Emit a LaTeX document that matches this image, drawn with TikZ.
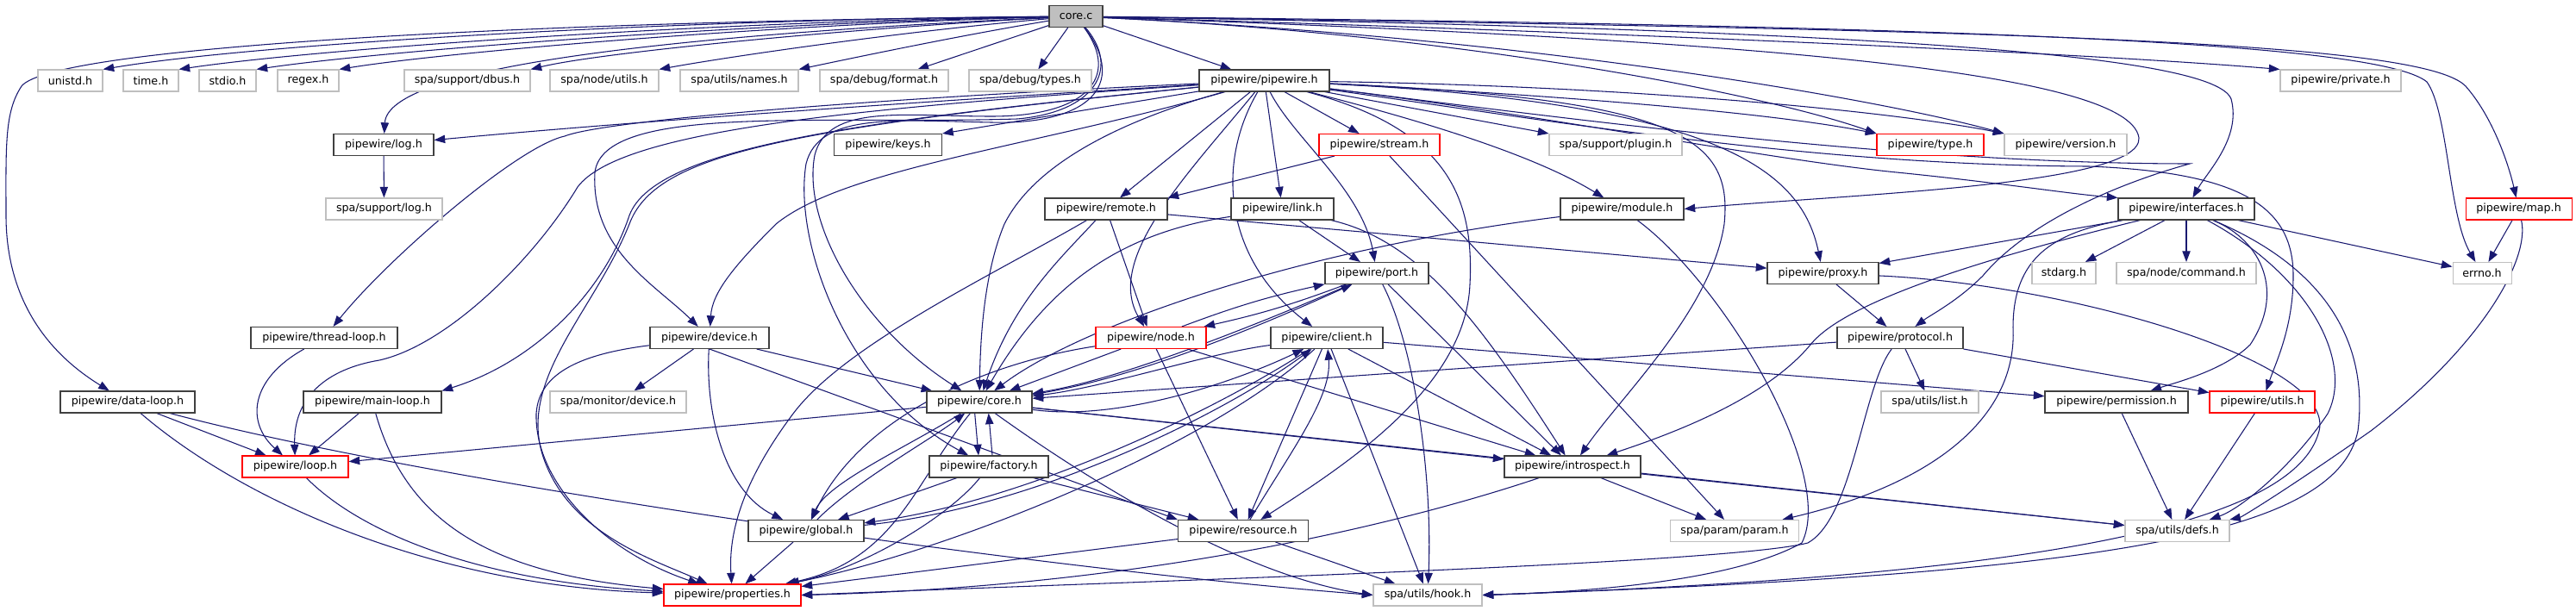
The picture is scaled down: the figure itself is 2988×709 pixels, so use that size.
\documentclass[tikz,border=0pt]{standalone}
\usepackage{fontspec}
\setmainfont{DejaVu Sans}
\usetikzlibrary{arrows.meta}
\definecolor{edgec}{HTML}{191970}
\definecolor{nbord}{HTML}{404040}
\definecolor{gbord}{HTML}{BFBFBF}
\definecolor{rbord}{HTML}{FF0000}
\pgfdeclarelayer{edgelayer}
\pgfsetlayers{edgelayer,main}
\begin{document}
\begin{tikzpicture}[x=0.75pt,y=-0.75pt,
  nd/.style={rectangle,minimum height=18.75pt,inner sep=0pt,line width=0.8pt,fill=white,font=\fontsize{9.5}{11}\selectfont},
  nb/.style={nd,draw=nbord},
  ng/.style={nd,draw=gbord},
  nr/.style={nd,draw=rbord},
  e/.style={draw=edgec,line width=0.8pt,-{Triangle[length=9.5pt,width=7pt]}}]
\useasboundingbox (0,0) rectangle (2988,709);
% row 0
\node[nb,fill=gbord,minimum width=46.5pt] (C) at (1248,19) {core.c};
% row 1
\node[ng,minimum width=56.25pt] (unistd) at (81.5,93.5) {unistd.h};
\node[ng,minimum width=48pt] (time) at (175,93.5) {time.h};
\node[ng,minimum width=49.5pt] (stdio) at (264,93.5) {stdio.h};
\node[ng,minimum width=53.25pt] (regex) at (357.5,93.5) {regex.h};
\node[ng,minimum width=109.5pt] (dbus) at (542,93.5) {spa/support/dbus.h};
\node[ng,minimum width=94.5pt] (nodeutils) at (701,93.5) {spa/node/utils.h};
\node[ng,minimum width=102.75pt] (names) at (857.5,93.5) {spa/utils/names.h};
\node[ng,minimum width=111.75pt] (format) at (1025.5,93.5) {spa/debug/format.h};
\node[ng,minimum width=106.5pt] (types) at (1195,93.5) {spa/debug/types.h};
\node[nb,minimum width=113.25pt] (P) at (1466.5,93.5) {pipewire/pipewire.h};
\node[ng,minimum width=105pt] (private) at (2715,93.5) {pipewire/private.h};
% row 2
\node[nb,minimum width=87pt] (log) at (445,168) {pipewire/log.h};
\node[nb,minimum width=93.75pt] (keys) at (1030,168) {pipewire/keys.h};
\node[nr,minimum width=105pt] (stream) at (1600,168) {pipewire/stream.h};
\node[ng,minimum width=115.5pt] (plugin) at (1874,168) {spa/support/plugin.h};
\node[nr,minimum width=93pt] (type) at (2239,168) {pipewire/type.h};
\node[ng,minimum width=106.5pt] (version) at (2396,168) {pipewire/version.h};
% row 3
\node[ng,minimum width=101.25pt] (slog) at (445.5,242.5) {spa/support/log.h};
\node[nb,minimum width=106.5pt] (remote) at (1283,242.5) {pipewire/remote.h};
\node[nb,minimum width=89.25pt] (link) at (1487.5,242.5) {pipewire/link.h};
\node[nb,minimum width=107.25pt] (module) at (1881.5,242.5) {pipewire/module.h};
\node[nb,minimum width=118.5pt] (interfaces) at (2536,242.5) {pipewire/interfaces.h};
\node[nr,minimum width=92.25pt] (map) at (2921.5,242.5) {pipewire/map.h};
% row 4
\node[nb,minimum width=90pt] (port) at (1597,317) {pipewire/port.h};
\node[nb,minimum width=96.75pt] (proxy) at (2114.5,317) {pipewire/proxy.h};
\node[ng,minimum width=55.5pt] (stdarg) at (2394,317) {stdarg.h};
\node[ng,minimum width=121.5pt] (command) at (2536,317) {spa/node/command.h};
\node[ng,minimum width=51pt] (errno) at (2879,317) {errno.h};
% row 5
\node[nb,minimum width=127.5pt] (threadloop) at (376,392) {pipewire/thread-loop.h};
\node[nb,minimum width=103.5pt] (device) at (823,392) {pipewire/device.h};
\node[nr,minimum width=96pt] (node) at (1335,392) {pipewire/node.h};
\node[nb,minimum width=97.5pt] (client) at (1539,392) {pipewire/client.h};
\node[nb,minimum width=109.5pt] (protocol) at (2204,392) {pipewire/protocol.h};
% row 6
\node[nb,minimum width=117pt] (dataloop) at (148,466.5) {pipewire/data-loop.h};
\node[nb,minimum width=120pt] (mainloop) at (432,466.5) {pipewire/main-loop.h};
\node[ng,minimum width=118.5pt] (monitordevice) at (717,466.5) {spa/monitor/device.h};
\node[nb,minimum width=91.5pt] (core) at (1136,466.5) {pipewire/core.h};
\node[ng,minimum width=84.75pt] (list) at (2238.5,466.5) {spa/utils/list.h};
\node[nb,minimum width=124.5pt] (permission) at (2455,466.5) {pipewire/permission.h};
\node[nr,minimum width=91.5pt] (utils) at (2624,466.5) {pipewire/utils.h};
% row 7
\node[nr,minimum width=92.25pt] (loop) at (342.5,541.5) {pipewire/loop.h};
\node[nb,minimum width=103.5pt] (factory) at (1147,541.5) {pipewire/factory.h};
\node[nb,minimum width=118.5pt] (introspect) at (1824,541.5) {pipewire/introspect.h};
% row 8
\node[nb,minimum width=100.5pt] (global) at (935,616) {pipewire/global.h};
\node[nb,minimum width=113.25pt] (resource) at (1442,616) {pipewire/resource.h};
\node[ng,minimum width=111.75pt] (param) at (2012,616) {spa/param/param.h};
\node[ng,minimum width=90.75pt] (defs) at (2525.5,616) {spa/utils/defs.h};
% row 9
\node[nr,minimum width=119.25pt] (properties) at (849.5,690.5) {pipewire/properties.h};
\node[ng,minimum width=94.5pt] (hook) at (1656,690.5) {spa/utils/hook.h};

\begin{pgfonlayer}{edgelayer}
% ---- edges from core.c
\draw[e] (C) .. controls (800,22) and (300,50) .. (unistd.north east);
\draw[e] (C) .. controls (850,24) and (380,55) .. (time.north east);
\draw[e] (C) .. controls (880,26) and (450,58) .. (stdio.north east);
\draw[e] (C) .. controls (900,28) and (520,60) .. (regex.north east);
\draw[e] (C) .. controls (1000,32) and (700,60) .. (dbus.north east);
\draw[e] (C) .. controls (1050,36) and (850,65) .. (nodeutils.north east);
\draw[e] (C) .. controls (1120,40) and (1000,65) .. (names.north east);
\draw[e] (C) -- (format);
\draw[e] (C) -- (types);
\draw[e] (C) -- (P);
\draw[e] (C) .. controls (800,40) and (450,75) .. (log);
\draw[e] (C) .. controls (600,25) and (60,55) .. (25,100) .. controls (5,130) and (7,170) .. (7,250) .. controls (7,330) and (40,400) .. (dataloop);
\draw[e] (C) .. controls (1800,35) and (2400,60) .. (private.north west);
\draw[e] (C) .. controls (2300,30) and (2760,50) .. (2815,95) .. controls (2840,130) and (2840,250) .. (errno);
\draw[e] (C) .. controls (2350,35) and (2810,48) .. (2860,100) .. controls (2895,140) and (2912,200) .. (map);
\draw[e] (C) .. controls (2200,35) and (2570,65) .. (2588,115) .. controls (2600,160) and (2560,200) .. (interfaces);
\draw[e] (C) .. controls (1700,40) and (2050,110) .. (type.north west);
\draw[e] (C) .. controls (1800,45) and (2200,120) .. (version.north west);
\draw[e] (C) .. controls (2000,45) and (2470,80) .. (2481,160) .. controls (2485,215) and (2150,225) .. (module.east);
\draw[e] (C) .. controls (1300,80) and (1270,130) .. (1180,138) .. controls (950,145) and (700,120) .. (690,200) .. controls (685,290) and (760,330) .. (device);
\draw[e] (C) .. controls (1300,90) and (1260,135) .. (1150,135) .. controls (1050,135) and (960,120) .. (945,180) .. controls (930,260) and (1000,380) .. (core);
\draw[e] (C) .. controls (1310,100) and (1260,145) .. (1150,142) .. controls (1040,140) and (950,130) .. (935,190) .. controls (920,280) and (980,450) .. (factory);

% ---- edges from pipewire.h
\draw[e] (P) .. controls (1200,110) and (800,135) .. (log);
\draw[e] (P) -- (keys.north east);
\draw[e] (P) .. controls (1000,115) and (700,140) .. (655,158) .. controls (600,170) and (450,300) .. (threadloop);
\draw[e] (P) .. controls (1000,140) and (760,170) .. (730,250) .. controls (700,340) and (620,420) .. (mainloop.north east);
\draw[e] (P) .. controls (1000,125) and (720,150) .. (670,217) .. controls (620,300) and (520,400) .. (440,418) .. controls (380,428) and (340,460) .. (loop);
\draw[e] (P) .. controls (1200,170) and (980,195) .. (900,260) .. controls (850,310) and (826,340) .. (device);
\draw[e] (P) .. controls (900,150) and (760,180) .. (730,260) .. controls (690,360) and (600,440) .. (630,530) .. controls (660,620) and (760,650) .. (properties);
\draw[e] (P) .. controls (1300,140) and (1200,190) .. (1165,260) .. controls (1140,320) and (1137,400) .. (core);
\draw[e] (P) .. controls (1380,200) and (1280,300) .. (node);
\draw[e] (P) -- (remote);
\draw[e] (P) -- (link);
\draw[e] (P) -- (stream);
\draw[e] (P) .. controls (1500,160) and (1580,220) .. (port);
\draw[e] (P) .. controls (1410,190) and (1420,300) .. (client);
\draw[e] (P) .. controls (1680,150) and (1710,230) .. (1705,330) .. controls (1700,450) and (1560,540) .. (resource);
\draw[e] (P) .. controls (1950,115) and (2010,160) .. (2000,260) .. controls (1985,360) and (1880,460) .. (introspect);
\draw[e] (P) -- (plugin.north west);
\draw[e] (P) .. controls (1650,140) and (1780,180) .. (module);
\draw[e] (P) .. controls (2000,120) and (2090,200) .. (proxy);
\draw[e] (P) .. controls (1800,110) and (2050,130) .. (type.north west);
\draw[e] (P) .. controls (1900,100) and (2200,130) .. (version.north west);
\draw[e] (P) .. controls (1800,135) and (2050,185) .. (2200,200) .. controls (2320,212) and (2400,225) .. (interfaces.north west);
\draw[e] (P) .. controls (1800,140) and (2100,192) .. (2423,193) .. controls (2600,200) and (2660,240) .. (2660,320) .. controls (2660,380) and (2640,420) .. (utils);
\draw[e] (P) .. controls (1800,135) and (2200,190) .. (2540,190) .. controls (2450,215) and (2350,260) .. (2300,320) .. controls (2270,350) and (2240,365) .. (protocol);

% ---- other edges
\draw[e] (log) -- (slog);
\draw[e] (stream) -- (remote.north east);
\draw[e] (stream) -- (param);
\draw[e] (remote) -- (node);
\draw[e] (remote) .. controls (1230,300) and (1175,350) .. (core);
\draw[e] (remote) .. controls (1150,320) and (980,400) .. (920,480) .. controls (860,560) and (845,620) .. (properties);
\draw[e] (remote) -- (proxy);
\draw[e] (link) -- (port);
\draw[e] (link) .. controls (1300,270) and (1215,330) .. (core);
\draw[e] (link) .. controls (1650,280) and (1720,380) .. (introspect);
\draw[e] (module) .. controls (1500,290) and (1250,380) .. (core);
\draw[e] (module) .. controls (2000,330) and (2130,550) .. (2090,630) .. controls (2000,680) and (1800,688) .. (hook.east);
\draw[e] (port) to[bend left=4] (node);
\draw[e] (node) to[bend left=4] (port);
\draw[e] (port) .. controls (1450,380) and (1300,440) .. (core);
\draw[e] (core) .. controls (1320,440) and (1480,370) .. (port);
\draw[e] (port) -- (introspect);
\draw[e] (port) .. controls (1640,400) and (1662,550) .. (hook);
\draw[e] (node) -- (core);
\draw[e] (node) -- (resource);
\draw[e] (node) -- (introspect);
\draw[e] (node) .. controls (1150,420) and (1000,480) .. (global);
\draw[e] (device) -- (monitordevice);
\draw[e] (device) -- (core);
\draw[e] (device) .. controls (818,480) and (840,570) .. (global);
\draw[e] (device) .. controls (680,410) and (625,430) .. (622,480) .. controls (620,560) and (700,640) .. (properties);
\draw[e] (device.south) -- (resource.north west);
\draw[e] (client) .. controls (1400,410) and (1280,450) .. (core);
\draw[e] (core) .. controls (1300,490) and (1440,440) .. (client);
\draw[e] (client) -- (introspect);
\draw[e] (client) -- (permission);
\draw[e] (client) -- (hook);
\draw[e] (client) .. controls (1400,520) and (1100,640) .. (properties);
\draw[e] (client) .. controls (1420,470) and (1200,580) .. (global);
\draw[e] (global) .. controls (1200,590) and (1420,480) .. (client);
\draw[e] (client) -- (resource);
\draw[e] (resource) .. controls (1500,520) and (1545,460) .. (client);
\draw[e] (resource) -- (hook);
\draw[e] (resource) -- (properties);
\draw[e] (core) -- (loop);
\draw[e] ([xshift=-4pt]core.south) -- ([xshift=-9pt]factory.north);
\draw[e] ([xshift=3pt]factory.north) -- ([xshift=8pt]core.south);
\draw[e] (core) .. controls (1050,520) and (960,560) .. (global);
\draw[e] (global) .. controls (990,560) and (1080,510) .. (core);
\draw[e] (core) .. controls (1060,560) and (1040,650) .. (properties);
\draw[e] (core) -- (introspect);
\draw[e] (core) -- (defs);
\draw[e] (core) .. controls (1280,570) and (1450,670) .. (hook.west);
\draw[e] (factory) -- (global);
\draw[e] (factory) .. controls (1100,600) and (1000,660) .. (properties);
\draw[e] (factory) -- (resource);
\draw[e] (global) -- (properties);
\draw[e] (introspect) -- (param);
\draw[e] (introspect) -- (defs);
\draw[e] (introspect) .. controls (1650,600) and (1350,680) .. (properties.east);
\draw[e] (proxy) -- (protocol);
\draw[e] (proxy) .. controls (2400,330) and (2710,420) .. (2690,500) .. controls (2660,620) and (2300,670) .. (hook.east);
\draw[e] (protocol) -- (core);
\draw[e] (protocol) -- (list);
\draw[e] (protocol) -- (utils);
\draw[e] (protocol) .. controls (2160,450) and (2150,600) .. (2097,630) .. controls (2000,655) and (1300,675) .. (properties.east);
\draw[e] (interfaces) -- (stdarg);
\draw[e] (interfaces) -- (command);
\draw[e] (interfaces) -- (errno);
\draw[e] (interfaces) -- (proxy);
\draw[e] (interfaces) .. controls (2300,300) and (2140,350) .. (2100,400) .. controls (2050,460) and (1950,500) .. (introspect);
\draw[e] (interfaces) .. controls (2625,280) and (2650,340) .. (2610,400) .. controls (2580,430) and (2520,445) .. (permission);
\draw[e] (interfaces) .. controls (2680,320) and (2730,420) .. (2700,480) .. controls (2660,540) and (2600,590) .. (defs);
\draw[e] (interfaces) .. controls (2720,320) and (2745,420) .. (2735,500) .. controls (2710,620) and (2450,665) .. (hook.east);
\draw[e] (interfaces) .. controls (2380,270) and (2335,300) .. (2335,380) .. controls (2340,480) and (2250,560) .. (param);
\draw[e] (map) -- (errno);
\draw[e] (map) .. controls (2935,300) and (2880,400) .. (2750,500) .. controls (2650,570) and (2600,600) .. (defs);
\draw[e] (permission) -- (defs);
\draw[e] (utils) -- (defs);
\draw[e] (dataloop) -- (loop);
\draw[e] (dataloop) .. controls (280,580) and (500,680) .. (properties);
\draw[e] (dataloop) .. controls (500,560) and (1200,660) .. (hook.west);
\draw[e] (threadloop) .. controls (290,440) and (285,490) .. (loop);
\draw[e] (mainloop) -- (loop);
\draw[e] (mainloop) .. controls (470,600) and (560,665) .. (properties);
\draw[e] (loop) .. controls (420,620) and (560,675) .. (properties);
\end{pgfonlayer}
\end{tikzpicture}
\end{document}
